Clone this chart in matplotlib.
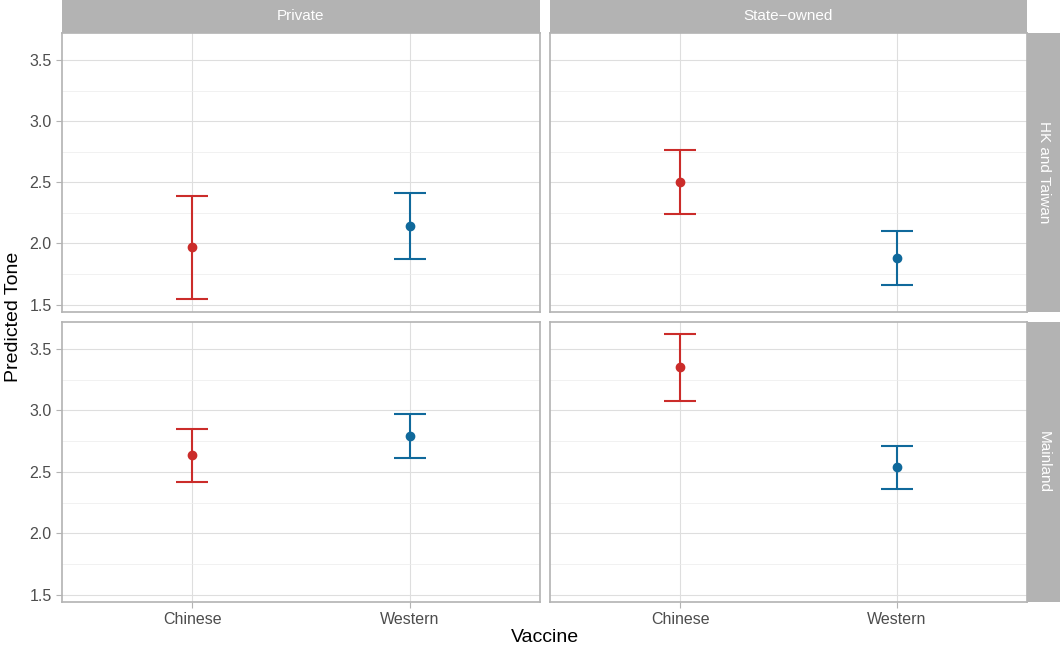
import matplotlib
matplotlib.use('Agg')
import matplotlib.pyplot as plt
import numpy as np

plt.rcParams['font.family'] = ['Liberation Sans', 'DejaVu Sans']

# dados
vacinas = ['Chinese', 'Western']
colunas = ['Private', 'State\u2212owned']
linhas = ['HK and Taiwan', 'Mainland']

# [linha][coluna] -> valores para Chinese, Western
tom = [[[1.97, 2.14], [2.50, 1.88]],
       [[2.64, 2.79], [3.35, 2.54]]]
inf = [[[1.55, 1.87], [2.24, 1.66]],
       [[2.42, 2.61], [3.08, 2.36]]]
sup = [[[2.39, 2.41], [2.76, 2.10]],
       [[2.85, 2.97], [3.62, 2.71]]]

cores = ['#cb2c2a', '#10699b']
yticks = [1.5, 2.0, 2.5, 3.0, 3.5]

W, H = 1060, 650
fig = plt.figure(figsize=(W / 100, H / 100), dpi=100)

def box(x0, y0, x1, y1):
    # pixels -> fracao da figura
    return [x0 / W, 1 - y1 / H, (x1 - x0) / W, (y1 - y0) / H]

xs = [(62, 540), (550, 1027)]
ys = [(33, 312), (322, 602)]
borda = '#b3b3b3'

for i in range(2):
    for j in range(2):
        ax = fig.add_axes(box(xs[j][0], ys[i][0], xs[j][1], ys[i][1]))
        x = np.arange(1, 3)
        for k in range(2):
            ax.errorbar(x[k], tom[i][j][k],
                        yerr=[[tom[i][j][k] - inf[i][j][k]], [sup[i][j][k] - tom[i][j][k]]],
                        color=cores[k], lw=1.5, capsize=11.5, capthick=1.5,
                        marker='o', markersize=6, zorder=3)
        ax.set_xlim(0.4, 2.6)
        ax.set_ylim(1.44, 3.72)
        ax.set_yticks(yticks)
        ax.set_yticks([1.75, 2.25, 2.75, 3.25], minor=True)
        ax.set_xticks([1, 2])
        ax.grid(True, which='major', color='#dedede', lw=0.8, zorder=0)
        ax.grid(True, which='minor', axis='y', color='#ececec', lw=0.5, zorder=0)
        ax.set_axisbelow(True)
        for s in ax.spines.values():
            s.set_color(borda)
            s.set_linewidth(1.2)
        ax.tick_params(which='major', color=borda, length=4, width=0.8,
                       labelsize=11.5, labelcolor='#4d4d4d')
        ax.tick_params(which='minor', length=0)
        if j == 0:
            ax.set_yticklabels(['%.1f' % v for v in yticks])
        else:
            ax.set_yticklabels([])
            ax.tick_params(axis='y', length=0)
        if i == 1:
            ax.set_xticklabels(vacinas)
        else:
            ax.set_xticklabels([])
            ax.tick_params(axis='x', length=0)

# faixas de cima
for j in range(2):
    s = fig.add_axes(box(xs[j][0], 0, xs[j][1], 33))
    s.set_facecolor('#b3b3b3')
    s.set_xticks([]); s.set_yticks([])
    for sp in s.spines.values():
        sp.set_visible(False)
    s.text(0.5, 0.5, colunas[j], color='white', fontsize=11, ha='center', va='center',
           transform=s.transAxes)

# faixas da direita
for i in range(2):
    s = fig.add_axes(box(1027, ys[i][0], 1060, ys[i][1]))
    s.set_facecolor('#b3b3b3')
    s.set_xticks([]); s.set_yticks([])
    for sp in s.spines.values():
        sp.set_visible(False)
    s.text(0.5, 0.5, linhas[i], color='white', fontsize=11, ha='center', va='center',
           rotation=-90, transform=s.transAxes)

fig.text(545 / W, 1 - 638 / H, 'Vaccine', fontsize=14, ha='center', va='center')
fig.text(14 / W, 1 - 317 / H, 'Predicted Tone', fontsize=14, ha='center', va='center',
         rotation=90)

fig.savefig('out.png', dpi=100)
